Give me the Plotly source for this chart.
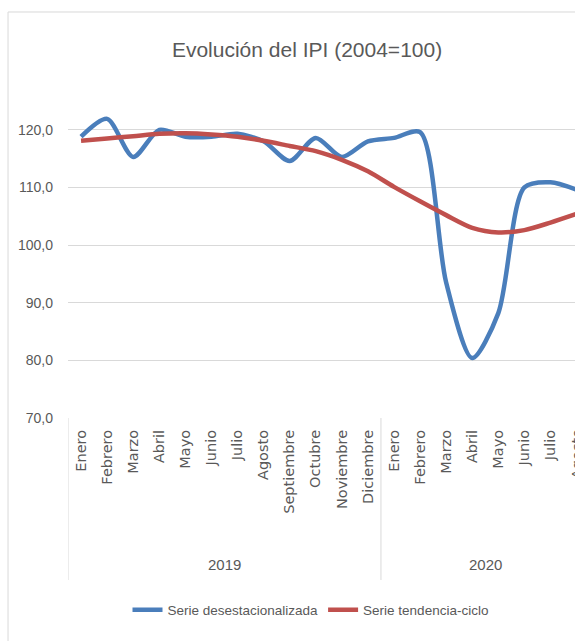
import plotly.graph_objects as go

months_2019 = ["Enero", "Febrero", "Marzo", "Abril", "Mayo", "Junio", "Julio", "Agosto",
               "Septiembre", "Octubre", "Noviembre", "Diciembre"]
months_2020 = ["Enero", "Febrero", "Marzo", "Abril", "Mayo", "Junio", "Julio", "Agosto"]
years = ["2019", "2020"]

serie_desestacionalizada = [118.8, 121.9, 115.3, 120.0, 118.8, 118.8, 119.3, 118.0, 114.6, 118.6, 115.3, 118.0,
                            118.6, 119.6, 93.5, 80.4, 88.2, 110.0, 110.9, 109.6]
serie_tendencia_ciclo = [118.1, 118.5, 118.9, 119.3, 119.4, 119.2, 118.8, 118.1, 117.2, 116.3, 114.8, 112.8,
                         110.1, 107.6, 105.2, 103.0, 102.2, 102.6, 103.9, 105.4]

month_labels = months_2019 + months_2020
idx = list(range(len(month_labels)))
groups = [len(months_2019), len(months_2020)]

NARROW = "Liberation Sans, Arial, sans-serif"
WIDE = "DejaVu Sans, Verdana, sans-serif"
GRAY = "#595959"

x_lo, x_hi = -0.5, 18.94
fig = go.Figure()
fig.add_trace(go.Scatter(x=idx, y=serie_desestacionalizada, mode="lines", name="Serie desestacionalizada",
                         line=dict(color="#4a7ebb", width=4.5, shape="spline", smoothing=0.8)))
fig.add_trace(go.Scatter(x=idx, y=serie_tendencia_ciclo, mode="lines", name="Serie tendencia-ciclo",
                         line=dict(color="#c0504d", width=4.5, shape="spline", smoothing=0.8)))

shapes = []
annotations = []
start = 0
for g, yr in zip(groups, years):
    shapes.append(dict(type="line", xref="x", yref="paper", x0=start - 0.5, x1=start - 0.5, y0=0, y1=-0.511,
                       line=dict(color="#d9d9d9", width=1)))
    annotations.append(dict(text=yr, xref="x", yref="paper", x=start + (g - 1) / 2, y=-0.4637,
                            xanchor="center", yanchor="middle",
                            showarrow=False, font=dict(family=NARROW, size=15, color=GRAY)))
    start += g

# last (cut) tick label
last_px = (len(month_labels) - 1 - x_lo) / (x_hi - x_lo)
annotations.append(dict(text=month_labels[-1], xref="paper", yref="paper", x=last_px, y=-0.03,
                        textangle=-90, xanchor="center", yanchor="top", showarrow=False,
                        font=dict(family=WIDE, size=14.5, color=GRAY)))

# outer chart border
shapes.append(dict(type="path", xref="paper", yref="paper",
                   path="M -0.1183 -0.8 L -0.1183 1.2808 L 1.2 1.2808",
                   line=dict(color="#d9d9d9", width=1)))

fig.update_layout(
    width=575, height=641,
    margin=dict(l=68, r=0, t=101, b=223, autoexpand=False),
    paper_bgcolor="white", plot_bgcolor="white",
    separators=",.",
    title=dict(text="Evolución del IPI (2004=100)", x=0.534, xref="container", xanchor="center",
               y=1 - 50 / 641, yref="container", yanchor="middle",
               font=dict(family=NARROW, size=21, color=GRAY)),
    xaxis=dict(range=[x_lo, x_hi], tickvals=idx, ticktext=month_labels, tickangle=-90,
               showgrid=False, zeroline=False, showline=False, ticks="", automargin=False,
               tickfont=dict(family=WIDE, size=14.5, color=GRAY), ticklabelstandoff=8),
    yaxis=dict(range=[70, 125], tickvals=[70, 80, 90, 100, 110, 120], tickformat=".1f",
               showgrid=True, gridcolor="#d9d9d9", gridwidth=1, zeroline=False, showline=False,
               ticks="", automargin=False,
               tickfont=dict(family=NARROW, size=14, color=GRAY), ticklabelstandoff=14),
    showlegend=True,
    legend=dict(orientation="h", xref="container", yref="container", x=0.54, y=1 - 610 / 641,
                xanchor="center", yanchor="middle", font=dict(family=NARROW, size=13.5, color=GRAY),
                itemwidth=30, tracegroupgap=0),
    shapes=shapes, annotations=annotations,
)

fig.write_html("out.html", config={"displayModeBar": False},
               post_script="document.body.style.margin='0';document.body.style.overflow='hidden';")
